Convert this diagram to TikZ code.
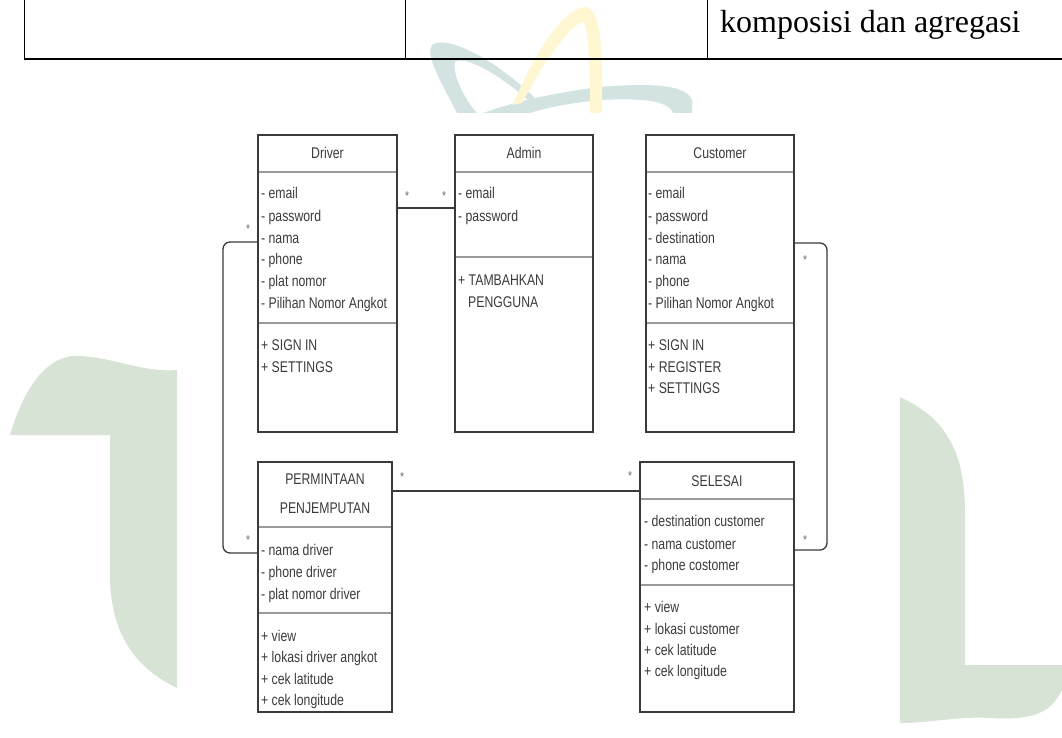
\documentclass[tikz,border=0pt]{standalone}
\usepackage{fontspec}
\setmainfont{Liberation Serif}
\newfontfamily\umlfont[FakeStretch=0.79]{Liberation Sans}
\definecolor{wmgreen}{HTML}{D7E3D4}
\definecolor{wmteal}{HTML}{D2E3E1}
\definecolor{wmyellow}{HTML}{FFF7D2}
\definecolor{boxline}{HTML}{3A3A3A}
\definecolor{sepline}{HTML}{9A9A9A}
\definecolor{umltext}{HTML}{3C3C3C}
\tikzset{
  umlbox/.style={draw=boxline, line width=1.2pt, fill=white, inner sep=0pt, outer sep=0pt, anchor=north west},
  sepl/.style={draw=sepline, line width=1.3pt},
  txt/.style={font=\umlfont\fontsize{15.5}{17}\selectfont, text=umltext, inner sep=0pt, anchor=base west},
  ttl/.style={font=\umlfont\fontsize{15.5}{17}\selectfont, text=umltext, inner sep=0pt, anchor=base},
  mult/.style={font=\umlfont\fontsize{13}{14}\selectfont, text=umltext!75, inner sep=0pt},
  conn/.style={draw=boxline, line width=1.3pt, rounded corners=7pt},
  tabline/.style={draw=black, line width=1.8pt}
}
\begin{document}
\begin{tikzpicture}[x=1pt,y=-1pt]
\useasboundingbox (0,0) rectangle (1062,738);
% watermark
\fill[wmgreen] (177,370) .. controls (140,373) and (110,355) .. (72,356)
  .. controls (40,360) and (20,400) .. (10,435) -- (110,435) -- (110,580)
  .. controls (112,640) and (140,670) .. (177,688) -- cycle;
\fill[wmgreen] (900,397) .. controls (945,418) and (965,450) .. (965,513)
  -- (965,665) -- (1062,665) -- (1062,690)
  .. controls (1050,715) and (1030,720) .. (990,718)
  .. controls (960,716) and (930,723) .. (900,723) -- cycle;
\begin{scope}
\clip (0,0) rectangle (1062,113);
\fill[wmteal] (457,113) .. controls (440,80) and (425,55) .. (432,45)
  .. controls (445,35) and (490,55) .. (535,98) -- (528,100)
  .. controls (500,75) and (465,55) .. (455,62)
  .. controls (452,75) and (465,100) .. (477,113) -- cycle;
\fill[wmteal] (483,113) .. controls (520,100) and (560,92) .. (600,87)
  .. controls (640,84) and (685,82) .. (692,100) -- (692,113) -- (673,113)
  .. controls (668,100) and (640,98) .. (600,100)
  .. controls (570,103) and (545,108) .. (530,113) -- cycle;
\fill[wmyellow] (513,105) .. controls (535,50) and (565,8) .. (585,7)
  .. controls (600,8) and (603,40) .. (602,113) -- (590,113)
  .. controls (590,60) and (588,25) .. (583,22)
  .. controls (570,25) and (545,60) .. (522,103) -- cycle;
\end{scope}
% table
\draw[tabline, line width=1.6pt] (24.5,0) -- (24.5,59);
\draw[tabline, line width=1.6pt] (405.5,0) -- (405.5,59);
\draw[tabline, line width=1.6pt] (707.5,0) -- (707.5,59);
\draw[tabline, line width=2.2pt] (23.7,59) -- (1062,59);
\node[font=\fontsize{32}{36}\selectfont, inner sep=0pt, anchor=base west] (tabtext) at (720,33) {komposisi dan agregasi};
% boxes
\node[umlbox, minimum width=139pt, minimum height=297pt] (driver) at (258,135) {};
\node[umlbox, minimum width=138pt, minimum height=297pt] (admin) at (455,135) {};
\node[umlbox, minimum width=148pt, minimum height=297pt] (cust) at (646,135) {};
\node[umlbox, minimum width=134pt, minimum height=250pt] (perm) at (258,462) {};
\node[umlbox, minimum width=154pt, minimum height=250pt] (sel) at (640,462) {};
% separators
\draw[sepl] (258.6,172) -- (396.4,172);
\draw[sepl] (258.6,323) -- (396.4,323);
\draw[sepl] (455.6,172) -- (592.4,172);
\draw[sepl] (455.6,257) -- (592.4,257);
\draw[sepl] (646.6,172) -- (793.4,172);
\draw[sepl] (646.6,323) -- (793.4,323);
\draw[sepl] (258.6,527) -- (391.4,527);
\draw[sepl] (258.6,613) -- (391.4,613);
\draw[sepl] (640.6,499) -- (793.4,499);
\draw[sepl] (640.6,585) -- (793.4,585);
% titles
\node[ttl] (tdriver) at (327.5,159) {Driver};
\node[ttl] (tadmin) at (524,159) {Admin};
\node[ttl] (tcust) at (720,159) {Customer};
\node[ttl] (tperm1) at (325,484) {PERMINTAAN};
\node[ttl] (tperm2) at (325,513) {PENJEMPUTAN};
\node[ttl] (tsel) at (717,486) {SELESAI};
% Driver
\node[txt] (d1) at (261,199) {- email};
\node[txt] (d2) at (261,221) {- password};
\node[txt] (d3) at (261,243) {- nama};
\node[txt] (d4) at (261,264) {- phone};
\node[txt] (d5) at (261,286) {- plat nomor};
\node[txt] (d6) at (261,308) {- Pilihan Nomor Angkot};
\node[txt] (d7) at (261,350) {+ SIGN IN};
\node[txt] (d8) at (261,372) {+ SETTINGS};
% Admin
\node[txt] (a1) at (458,199) {- email};
\node[txt] (a2) at (458,221) {- password};
\node[txt] (a3) at (458,285) {+ TAMBAHKAN};
\node[txt] (a4) at (468,307) {PENGGUNA};
% Customer
\node[txt] (c1) at (648,199) {- email};
\node[txt] (c2) at (648,221) {- password};
\node[txt] (c3) at (648,243) {- destination};
\node[txt] (c4) at (648,264) {- nama};
\node[txt] (c5) at (648,286) {- phone};
\node[txt] (c6) at (648,308) {- Pilihan Nomor Angkot};
\node[txt] (c7) at (648,350) {+ SIGN IN};
\node[txt] (c8) at (648,372) {+ REGISTER};
\node[txt] (c9) at (648,393) {+ SETTINGS};
% Permintaan
\node[txt] (p1) at (261,555) {- nama driver};
\node[txt] (p2) at (261,577) {- phone driver};
\node[txt] (p3) at (261,599) {- plat nomor driver};
\node[txt] (p4) at (261,641) {+ view};
\node[txt] (p5) at (261,662) {+ lokasi driver angkot};
\node[txt] (p6) at (261,684) {+ cek latitude};
\node[txt] (p7) at (261,705) {+ cek longitude};
% Selesai
\node[txt] (s1) at (644,526) {- destination customer};
\node[txt] (s2) at (644,549) {- nama customer};
\node[txt] (s3) at (644,570) {- phone costomer};
\node[txt] (s4) at (644,612) {+ view};
\node[txt] (s5) at (644,634) {+ lokasi customer};
\node[txt] (s6) at (644,655) {+ cek latitude};
\node[txt] (s7) at (644,676) {+ cek longitude};
% connectors
\draw[conn, line width=2pt] ([yshift=-73pt]driver.north east) -- ([yshift=-73pt]admin.north west);
\draw[conn] ([yshift=-107pt]driver.north west) -- ++(-35,0) -- ++(0,311) -- ([yshift=-91pt]perm.north west);
\draw[conn] ([yshift=-108pt]cust.north east) -- ++(33,0) -- ++(0,307) -- ([yshift=-88pt]sel.north east);
\draw[conn] ([yshift=-29pt]perm.north east) -- ([yshift=-29pt]sel.north west);
% multiplicities
\node[mult] (m1) at (407,196) {*};
\node[mult] (m2) at (444,196) {*};
\node[mult] (m3) at (248,229) {*};
\node[mult] (m4) at (805,260) {*};
\node[mult] (m5) at (248,540) {*};
\node[mult] (m6) at (402,477) {*};
\node[mult] (m7) at (630,476) {*};
\node[mult] (m8) at (805,540) {*};
\end{tikzpicture}
\end{document}
